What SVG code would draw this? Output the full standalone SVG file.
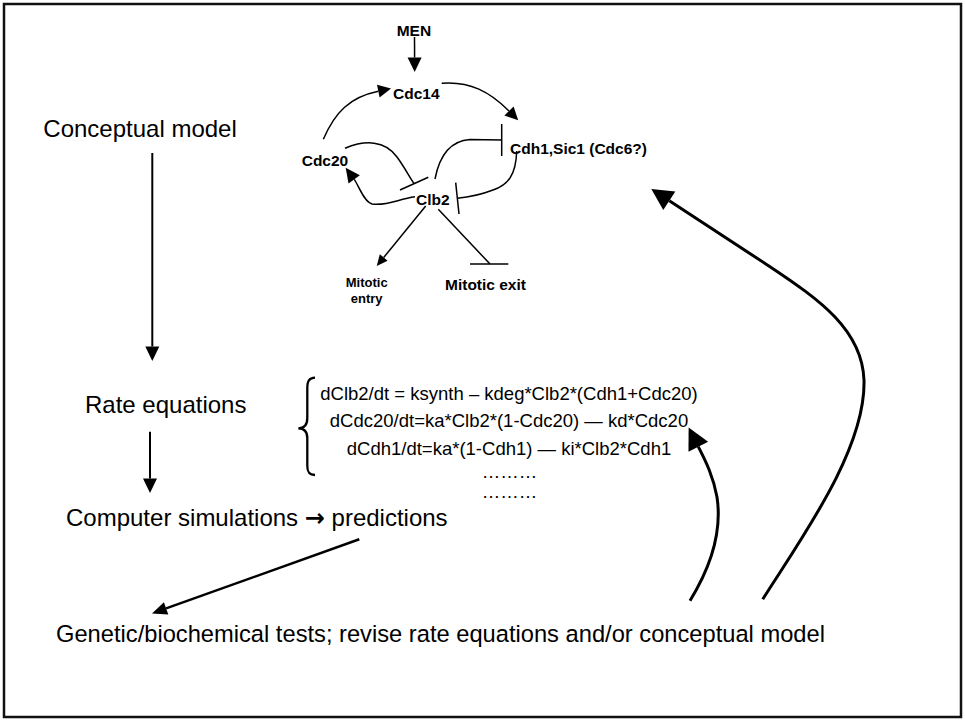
<svg xmlns="http://www.w3.org/2000/svg" width="965" height="721" viewBox="0 0 965 721">
<style>
  .t{font-family:"Liberation Sans",Arial,sans-serif;fill:#000}
  .big{font-size:24px}
  .eq{font-size:18.5px;text-anchor:middle}
  .b{font-weight:bold;font-size:15.5px}
  .bs{font-weight:bold;font-size:13px;text-anchor:middle}
  .ln{fill:none;stroke:#000;stroke-width:1.5}
  .flow{fill:none;stroke:#000;stroke-width:2}
  .thick{fill:none;stroke:#000;stroke-width:3}
  .arr{font-family:"DejaVu Sans",sans-serif;font-weight:bold}
</style>
<defs>
  <marker id="ahBig" markerUnits="userSpaceOnUse" markerWidth="24" markerHeight="24" refX="0" refY="11" orient="auto" overflow="visible">
    <path d="M0,0 L21.5,11 L0,22 z" fill="#000"/>
  </marker>
  <marker id="ahMid" markerUnits="userSpaceOnUse" markerWidth="16" markerHeight="16" refX="0" refY="7" orient="auto" overflow="visible">
    <path d="M0,0 L14.5,7 L0,14 z" fill="#000"/>
  </marker>
  <marker id="ahPred" markerUnits="userSpaceOnUse" markerWidth="16" markerHeight="16" refX="0" refY="6.5" orient="auto" overflow="visible">
    <path d="M0,0 L15,6.5 L0,13 z" fill="#000"/>
  </marker>
  <marker id="ahNet" markerUnits="userSpaceOnUse" markerWidth="16" markerHeight="16" refX="0" refY="6.5" orient="auto" overflow="visible">
    <path d="M0,0 L13,6.5 L0,13 z" fill="#000"/>
  </marker>
  <marker id="ahSm" markerUnits="userSpaceOnUse" markerWidth="12" markerHeight="12" refX="0" refY="5" orient="auto" overflow="visible">
    <path d="M0,0 L11,5 L0,10 z" fill="#000"/>
  </marker>
</defs>

<rect x="4" y="4" width="957" height="713" fill="#fff" stroke="#111" stroke-width="2.5"/>

<g id="connectors">
  <!-- main flow -->
  <path class="flow" d="M152.3,153 L152.3,346.5" marker-end="url(#ahMid)"/>
  <path class="flow" d="M150,431.7 L150,478.5" marker-end="url(#ahMid)"/>
  <path class="flow" style="stroke-width:2.5" d="M359.3,539.3 L166.1,608.4" marker-end="url(#ahPred)"/>
  <path class="thick" d="M762.7,599.3 C800,540 866,450 864,380 C862,330 820,300 770,266.7 L669.3,200.8" marker-end="url(#ahBig)"/>
  <path class="thick" d="M690,600.7 C712,565 722,530 717,497 C713,475 705,460 698.3,446.7" marker-end="url(#ahBig)"/>

  <!-- network -->
  <path class="ln" d="M414.5,37 L414.6,57.5" marker-end="url(#ahMid)"/>
  <path class="ln" d="M323.3,139.3 C335,112 350,97 378.3,91.2" marker-end="url(#ahNet)"/>
  <path class="ln" d="M441.7,83.3 C470,81 490,92 509,111" marker-end="url(#ahNet)"/>
  <path class="ln" d="M435,179 C439,158 448,141 470,139.5 L501.7,140"/>
  <path class="ln" d="M501.7,124 L501.7,156"/>
  <path class="ln" d="M516.7,151 C516,175 508,185 493,190 C480,195 470,197 457.3,198.3"/>
  <path class="ln" d="M455.7,182.7 L459,214"/>
  <path class="ln" d="M345,148.3 C365,140 385,140 397,157 C405,168 410,178 414.2,183.7"/>
  <path class="ln" d="M400,190 L428.3,177.3"/>
  <path class="ln" d="M415,196.7 C398,199 388,206 372,204 C364,202 359,186 354.2,179.4" marker-end="url(#ahMid)"/>
  <path class="ln" d="M425.7,206 L383.7,257.5" marker-end="url(#ahSm)"/>
  <path class="ln" d="M438.3,209.3 L490,264"/>
  <path class="ln" d="M470,264 L508.3,264"/>

  <!-- brace -->
  <path fill="none" stroke="#000" stroke-width="2.3" d="M315,377.7 C309,378 307.3,381 307.3,388 L307.3,418 C307.3,425 304,428.3 298.3,428.3 C304,428.3 307.3,431.5 307.3,438 L307.3,466 C307.3,472 309,475 315,475"/>
</g>

<g id="n-conceptual"><text class="t big" x="43.3" y="136.7">Conceptual model</text></g>
<g id="n-rate"><text class="t big" x="85" y="413.3">Rate equations</text></g>
<g id="n-sim"><text class="t big" x="66" y="526">Computer simulations <tspan class="arr">→</tspan> predictions</text></g>
<g id="n-tests"><text class="t big" style="font-size:23.7px" x="56" y="641.5">Genetic/biochemical tests; revise rate equations and/or conceptual model</text></g>

<g id="n-equations">
  <text class="t eq" x="509" y="400">dClb2/dt = ksynth – kdeg*Clb2*(Cdh1+Cdc20)</text>
  <text class="t eq" x="509" y="427.3">dCdc20/dt=ka*Clb2*(1-Cdc20) — kd*Cdc20</text>
  <text class="t eq" x="509" y="455">dCdh1/dt=ka*(1-Cdh1) — ki*Clb2*Cdh1</text>
  <text class="t eq" x="509.5" y="478.3">………</text>
  <text class="t eq" x="509.5" y="498.3">………</text>
</g>

<g id="n-men"><text class="t b" x="396.7" y="36">MEN</text></g>
<g id="n-cdc14"><text class="t b" x="393" y="99">Cdc14</text></g>
<g id="n-cdh1"><text class="t b" x="510" y="154">Cdh1,Sic1 (Cdc6?)</text></g>
<g id="n-cdc20"><text class="t b" x="301.7" y="166">Cdc20</text></g>
<g id="n-clb2"><text class="t b" x="416" y="205">Clb2</text></g>
<g id="n-entry"><text class="t bs" x="366.7" y="287">Mitotic</text><text class="t bs" x="366.7" y="303">entry</text></g>
<g id="n-exit"><text class="t b" x="445" y="290">Mitotic exit</text></g>
</svg>
